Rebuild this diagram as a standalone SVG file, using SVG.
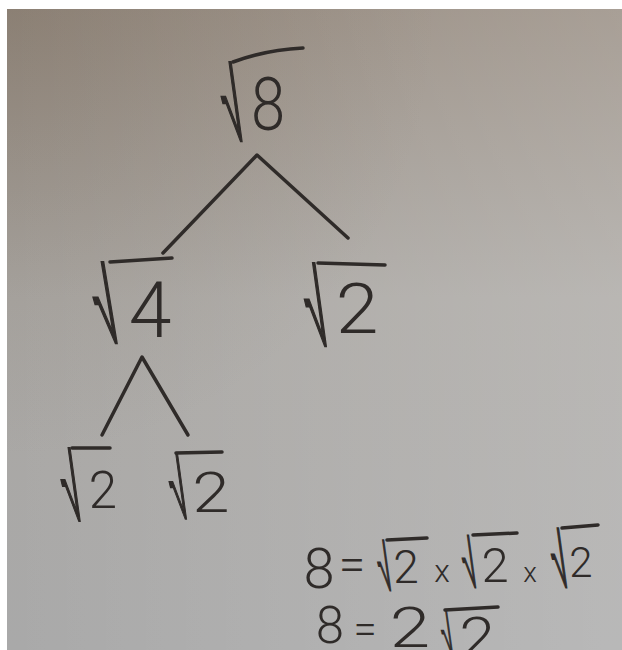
<svg xmlns="http://www.w3.org/2000/svg" width="622" height="650" viewBox="0 0 622 650">
<defs>
<linearGradient id="bgv" x1="0" y1="0" x2="0" y2="1">
<stop offset="0" stop-color="#958a7f"/>
<stop offset="0.45" stop-color="#aaa7a3"/>
<stop offset="1" stop-color="#a9a9a9"/>
</linearGradient>
<linearGradient id="bgh" x1="0" y1="0" x2="1" y2="0">
<stop offset="0" stop-color="#ffffff" stop-opacity="0"/>
<stop offset="1" stop-color="#ffffff" stop-opacity="0.18"/>
</linearGradient>
<radialGradient id="bgd" cx="0" cy="0" r="0.7">
<stop offset="0" stop-color="#6e6153" stop-opacity="0.25"/>
<stop offset="1" stop-color="#6e6153" stop-opacity="0"/>
</radialGradient>
<style>
.ink{fill:none;stroke:#2f2b29;stroke-width:3.5;stroke-linecap:round;stroke-linejoin:round}
.d{font-family:Roboto,"DejaVu Sans",sans-serif;font-weight:300;fill:#2f2b29;text-anchor:middle}
.rad{font-family:"DejaVu Sans",sans-serif;font-weight:200;font-size:100px;fill:#2f2b29;stroke:#2f2b29;stroke-width:3}
</style>
</defs>
<rect width="622" height="650" fill="#ffffff"/>
<rect x="7" y="9" width="615" height="641" fill="url(#bgv)"/>
<rect x="7" y="9" width="615" height="641" fill="url(#bgh)"/>
<rect x="7" y="9" width="615" height="641" fill="url(#bgd)"/>

<g id="connectors" class="ink">
<path d="M163,253 L257,155 L348,238"/>
<path d="M102,435 L142,357 L188,435"/>
</g>

<g id="node-sqrt8">
<text class="rad" transform="translate(233,140) skewX(14) scale(0.357,0.98)" x="-5.9" y="0">√</text>
<path class="ink" d="M233,62 Q265,50 303,48"/>
<text class="d" transform="translate(268,130) scale(0.82,1)" x="0" y="0" font-size="75">8</text>
</g>

<g id="node-sqrt4">
<text class="rad" transform="translate(107,342) skewX(16) scale(0.4,1.005)" x="-5.9" y="0">√</text>
<path class="ink" d="M110,262 L172,258"/>
<text class="d" x="150" y="337" font-size="77">4</text>
</g>

<g id="node-sqrt2-right">
<text class="rad" transform="translate(317,345) skewX(14) scale(0.375,1.03)" x="-5.9" y="0">√</text>
<path class="ink" d="M318,263 L385,265"/>
<text class="d" transform="translate(357,333) scale(1.1,1)" x="0" y="0" font-size="70">2</text>
</g>

<g id="node-sqrt2-a">
<text class="rad" transform="translate(72,520) skewX(14) scale(0.329,0.905)" x="-5.9" y="0">√</text>
<path class="ink" d="M72,448 L110,448"/>
<text class="d" x="103" y="508" font-size="51">2</text>
</g>

<g id="node-sqrt2-b">
<text class="rad" transform="translate(179,518) skewX(14) scale(0.3,0.817)" x="-5.9" y="0">√</text>
<path class="ink" d="M176,453 L222,452"/>
<text class="d" transform="translate(211,512) scale(1.2,1)" x="0" y="0" font-size="56">2</text>
</g>

<g id="equation-1">
<text class="d" x="319" y="588" font-size="56">8</text>
<text class="d" x="352" y="581" font-size="48">=</text>
<text class="rad" transform="translate(385,590) skewX(14) scale(0.229,0.63)" x="-5.9" y="0">√</text>
<path class="ink" d="M387,540 L427,538"/>
<text class="d" x="406" y="583" font-size="46">2</text>
<text class="d" x="442" y="582" font-size="32">x</text>
<text class="rad" transform="translate(470,587) skewX(14) scale(0.238,0.65)" x="-5.9" y="0">√</text>
<path class="ink" d="M473,535 L517,533"/>
<text class="d" x="495" y="582" font-size="49">2</text>
<text class="d" x="530" y="582" font-size="28">x</text>
<text class="rad" transform="translate(560,587) skewX(14) scale(0.27,0.74)" x="-5.9" y="0">√</text>
<path class="ink" d="M562,528 L598,525"/>
<text class="d" x="581" y="577" font-size="42">2</text>
</g>

<g id="equation-2">
<text class="d" x="330" y="643" font-size="51">8</text>
<text class="d" x="365" y="644" font-size="42">=</text>
<text class="d" transform="translate(410,647) scale(1.3,1)" x="0" y="0" font-size="56">2</text>
<text class="rad" transform="translate(448,655) skewX(14) scale(0.2,0.56)" x="-5.9" y="0">√</text>
<path class="ink" d="M445,610 L498,607"/>
<text class="d" transform="translate(477,657) scale(1.15,1)" x="0" y="0" font-size="56">2</text>
</g>
</svg>
